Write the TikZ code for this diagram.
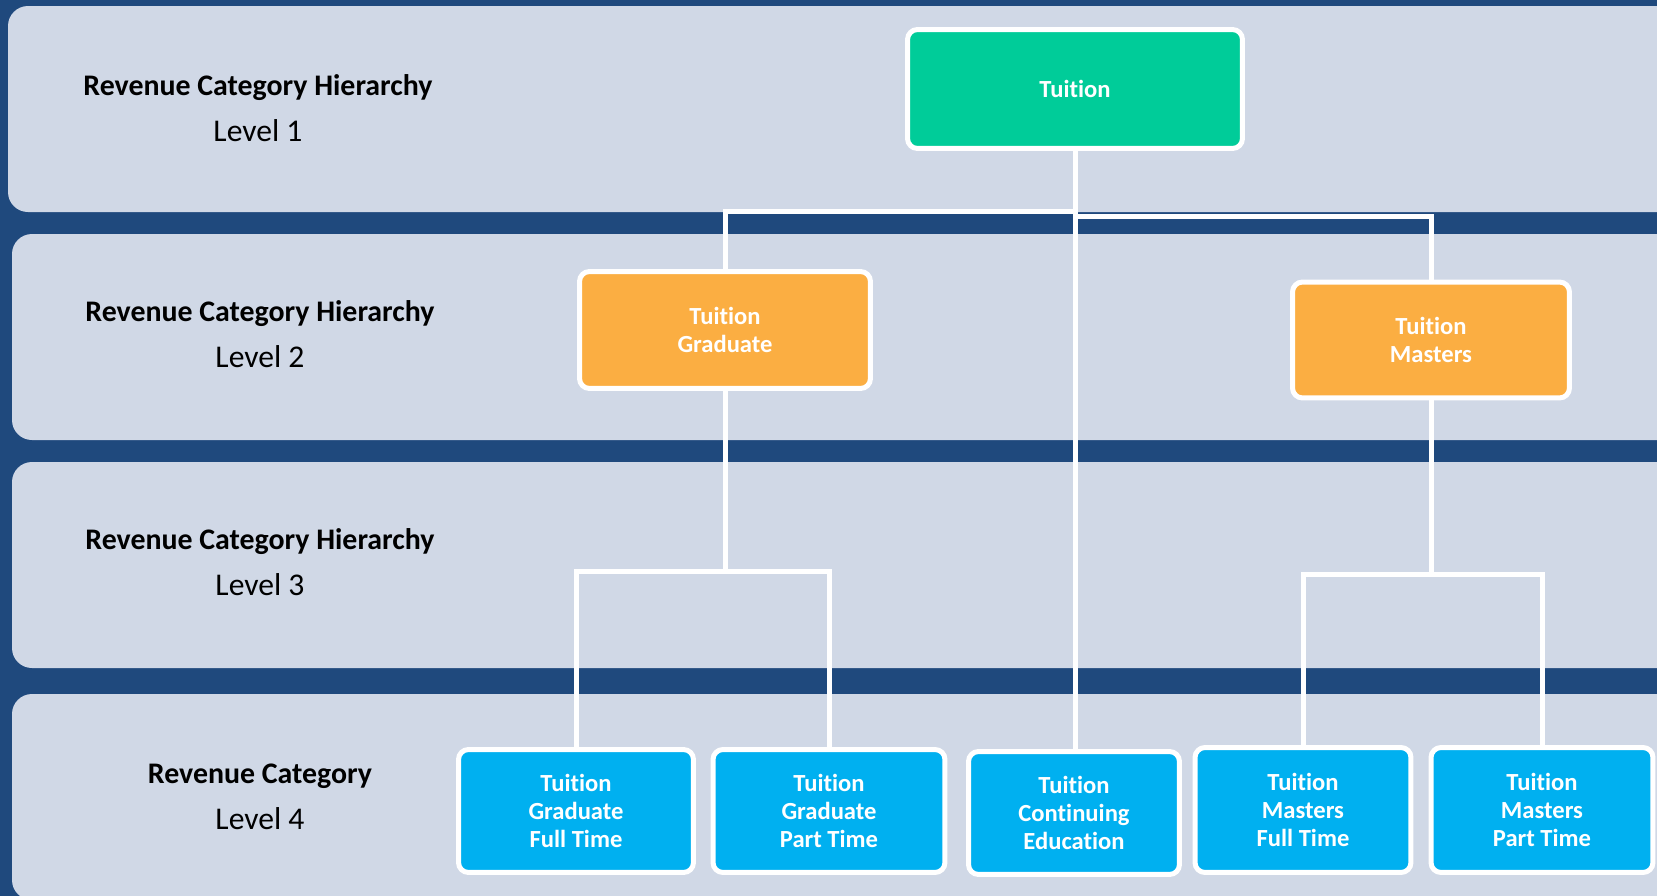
\documentclass[tikz,border=0pt]{standalone}
\usepackage{fontspec}
\setmainfont{Carlito}[Ligatures=NoCommon]
\usetikzlibrary{positioning}
\definecolor{navy}{RGB}{31,73,125}
\definecolor{bandgray}{RGB}{208,216,230}
\definecolor{tuigreen}{RGB}{0,204,153}
\definecolor{tuiorange}{RGB}{251,174,66}
\definecolor{tuiblue}{RGB}{0,176,240}
\tikzset{
box/.style = {draw=white, line width=0.1cm, rounded corners=0.2cm, align=center, text=white, font=\bfseries\fontsize{14}{16}\selectfont},
topbox/.style = {box, fill=tuigreen},
midbox/.style = {box, fill=tuiorange},
leafbox/.style = {box, fill=tuiblue},
band/.style = {fill=bandgray, rounded corners=0.4cm},
lvl/.style = {align=center, font=\fontsize{18}{26}\selectfont},
link/.style = {draw=white, line width=0.1cm}
}
\newcommand{\lvlhead}[1]{{\fontsize{17}{26}\selectfont\bfseries #1}}

\begin{document}
\begin{tikzpicture}[x=0.02cm, y=-0.02cm]
    \clip (0,0) rectangle (1657,896);
    \fill[navy] (0,0) rectangle (1657,896);
    % the four level bands
    \foreach \ya/\xa in {6/8, 234/12, 462/12, 694/12}
        \fill[band] (\xa,\ya) rectangle (1700,\ya+206);

    \node [lvl] (lone)   at (258,108) {\lvlhead{Revenue Category Hierarchy}\\Level 1};
    \node [lvl] (ltwo)   at (260,334) {\lvlhead{Revenue Category Hierarchy}\\Level 2};
    \node [lvl] (lthree) at (260,562) {\lvlhead{Revenue Category Hierarchy}\\Level 3};
    \node [lvl] (lfour)  at (260,797) {\lvlhead{Revenue Category}\\Level 4};

    \node [topbox, minimum width=6.7cm, minimum height=2.38cm] (tui) at (1075,89) {Tuition};
    \node [midbox, minimum width=5.82cm, minimum height=2.34cm] (grad) at (725,330) {Tuition\\Graduate};
    \node [midbox, minimum width=5.54cm, minimum height=2.32cm] (mast) at (1431,340) {Tuition\\Masters};
    \node [leafbox, minimum width=4.7cm, minimum height=2.46cm] (gft) at (576,811) {Tuition\\Graduate\\Full Time};
    \node [leafbox, minimum width=4.64cm, minimum height=2.46cm] (gpt) at (829,811) {Tuition\\Graduate\\Part Time};
    \node [leafbox, minimum width=4.22cm, minimum height=2.46cm] (cont) at (1074,813) {Tuition\\Continuing\\Education};
    \node [leafbox, minimum width=4.32cm, minimum height=2.5cm] (mft) at (1303,810) {Tuition\\Masters\\Full Time};
    \node [leafbox, minimum width=4.44cm, minimum height=2.5cm] (mpt) at (1542,810) {Tuition\\Masters\\Part Time};

    \coordinate (gsplit) at (1075,211);
    \coordinate (msplit) at (1075,216);
    \coordinate (gbar) at (725,571);
    \coordinate (mbar) at (1431,574);

    \draw [link] (tui.south) -- (tui.south |- cont.north);
    \draw [link] (gsplit) -| (grad);
    \draw [link] (msplit) -| (mast);
    \draw [link] (grad) -- (gbar);
    \draw [link] (gft) |- (gbar) -| (gpt);
    \draw [link] (mast) -- (mbar);
    \draw [link] (mft) |- (mbar) -| (mpt);
\end{tikzpicture}
\end{document}
